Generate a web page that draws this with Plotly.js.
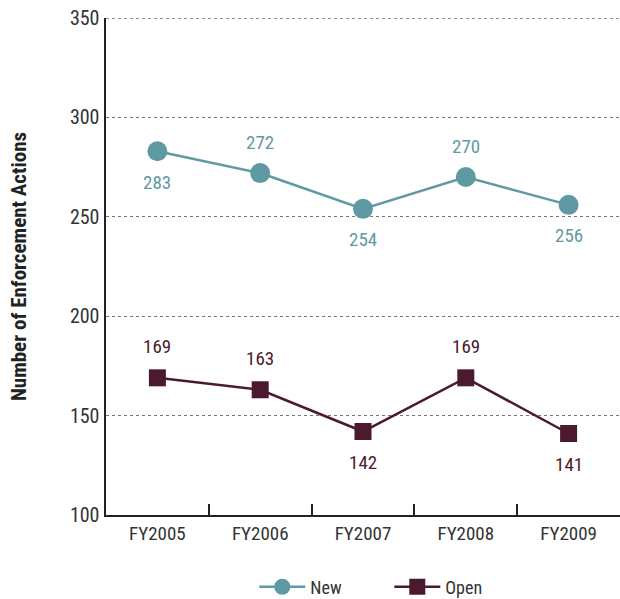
<!DOCTYPE html>
<html><head><meta charset="utf-8">
<script src="https://cdn.plot.ly/plotly-3.0.1.min.js"></script>
<style>html,body{margin:0;padding:0;background:#fff}#chart{width:620px;height:599px}</style>
</head><body><div id="chart"></div>
<script>
var categories = ["FY2005","FY2006","FY2007","FY2008","FY2009"];
var newValues = [283, 272, 254, 270, 256];
var openValues = [169, 163, 142, 169, 141];
var newLabelSide = [-1, 1, -1, 1, -1];   // 1 = above, -1 = below
var openLabelSide = [1, 1, -1, 1, -1];
var yTicks = [100, 150, 200, 250, 300, 350];

var FONT = '"Liberation Sans Narrow", "Roboto Condensed", Roboto, sans-serif';
var newColor = '#5f9aa4';
var openColor = '#4b1a2e';

var traces = [
  {x: categories, y: newValues, name: 'New', type: 'scatter', mode: 'lines+markers',
   line: {color: newColor, width: 2.5},
   marker: {symbol: 'circle', size: 20, color: newColor}},
  {x: categories, y: openValues, name: 'Open', type: 'scatter', mode: 'lines+markers',
   line: {color: openColor, width: 2.5},
   marker: {symbol: 'square', size: 17, color: openColor}}
];

var annotations = [];
function addLabels(vals, sides, color) {
  vals.forEach(function (v, i) {
    annotations.push({x: categories[i], y: v, text: String(v), showarrow: false,
      yshift: sides[i] * 31, font: {family: FONT, size: 19, color: color}});
  });
}
addLabels(newValues, newLabelSide, newColor);
addLabels(openValues, openLabelSide, openColor);

var layout = {
  width: 620, height: 599,
  margin: {l: 106, r: 0, t: 18, b: 84, autoexpand: false},
  paper_bgcolor: '#fff', plot_bgcolor: '#fff',
  font: {family: FONT, size: 19, color: '#333'},
  showlegend: true,
  legend: {orientation: 'h', x: 0.2885, xanchor: 'left', y: -0.145, yanchor: 'middle',
           font: {family: FONT, size: 18, color: '#333'}, itemwidth: 46,
           entrywidth: 74, entrywidthmode: 'pixels'},
  annotations: annotations,
  shapes: [{type: 'line', xref: 'paper', x0: 0, x1: 1, yref: 'y', y0: 350, y1: 350,
            line: {color: '#222', width: 1, dash: 'dot'}}],
  xaxis: {type: 'category', showline: true, linecolor: '#222', linewidth: 2,
          ticks: 'inside', tickson: 'boundaries', ticklen: 11, tickwidth: 2, tickcolor: '#222',
          showgrid: false, zeroline: false, range: [-0.5, 4.5],
          tickfont: {family: FONT, size: 19, color: '#333'}},
  yaxis: {range: [100, 350], tickvals: yTicks, showline: true, linecolor: '#222', linewidth: 2.5,
          ticks: '', showgrid: true, gridcolor: '#777', griddash: 'dot', gridwidth: 1,
          zeroline: false, tickfont: {family: FONT, size: 20, color: '#333'},
          title: {text: '<b>Number of Enforcement Actions</b>', standoff: 38,
                  font: {family: FONT, size: 21, color: '#222'}}}
};

Plotly.newPlot('chart', traces, layout, {displayModeBar: false, staticPlot: true});
</script></body></html>
